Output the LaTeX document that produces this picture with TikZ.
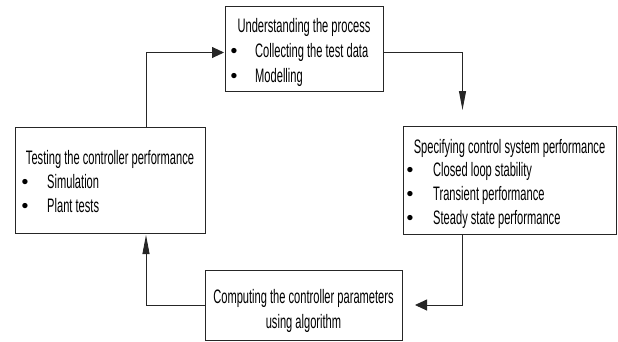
\documentclass[tikz,border=0pt]{standalone}
\usepackage{fontspec}
\setmainfont{Liberation Sans}[FakeStretch=0.57]
\newfontfamily\bulfont{Liberation Sans}
\usetikzlibrary{arrows.meta}
\begin{document}
\begin{tikzpicture}[x=1pt,y=-1pt,
  box/.style={draw=black!85,line width=0.9pt,inner sep=0pt,fill=white},
  txt/.style={inner sep=0pt,font=\fontsize{19.5}{23}\selectfont,text=black},
  bul/.style={inner sep=0pt,font=\bulfont\fontsize{19.5}{23}\selectfont,text=black},
  conn/.style={draw=black!85,line width=0.9pt},
  harrow/.style={conn,-{Triangle[length=12pt,width=11pt]}},
  varrow/.style={conn,-{Triangle[length=19pt,width=7pt]}}]
\useasboundingbox (0,0) rectangle (618,341);
% boxes
\node[box,minimum width=158pt,minimum height=85pt] (top) at (304,48.5) {};
\node[box,minimum width=213pt,minimum height=108pt] (right) at (509.5,180) {};
\node[box,minimum width=197pt,minimum height=70pt] (bottom) at (303.5,305) {};
\node[box,minimum width=190pt,minimum height=106pt] (left) at (110,180) {};
% top box text
\node[txt,anchor=base] (th) at (304,32.5) {Understanding the process};
\node[bul,anchor=base] (tb1) at (234,57.5) {•};
\node[txt,anchor=base west] (tt1) at (255,57.5) {Collecting the test data};
\node[bul,anchor=base] (tb2) at (234,82.5) {•};
\node[txt,anchor=base west] (tt2) at (255,82.5) {Modelling};
% right box text
\node[txt,anchor=base] (rh) at (509.5,153.5) {Specifying control system performance};
\node[bul,anchor=base] (rb1) at (410,176.5) {•};
\node[txt,anchor=base west] (rt1) at (433,176.5) {Closed loop stability};
\node[bul,anchor=base] (rb2) at (410,200) {•};
\node[txt,anchor=base west] (rt2) at (433,200) {Transient performance};
\node[bul,anchor=base] (rb3) at (410,224) {•};
\node[txt,anchor=base west] (rt3) at (433,224) {Steady state performance};
% bottom box text
\node[txt,anchor=base] (bh1) at (303.5,303.5) {Computing the controller parameters};
\node[txt,anchor=base] (bh2) at (303.5,328) {using algorithm};
% left box text
\node[txt,anchor=base] (lh) at (110,164) {Testing the controller performance};
\node[bul,anchor=base] (lb1) at (25,188) {•};
\node[txt,anchor=base west] (lt1) at (47,188) {Simulation};
\node[bul,anchor=base] (lb2) at (25,212) {•};
\node[txt,anchor=base west] (lt2) at (47,212) {Plant tests};
% connector helpers
\coordinate (ty) at (0,52.5);
\coordinate (rx) at (462.5,0);
\coordinate (lx) at (146,0);
\coordinate (ra) at (462.5,110);
\coordinate (ba) at (415,305);
\coordinate (la) at (146,235);
\coordinate (ta) at (224,52.5);
% connectors
\draw[varrow] (ty -| top.east) -| (ra);
\draw[harrow] (right.south -| rx) |- (ba);
\draw[varrow] (bottom.west) -| (la);
\draw[harrow] (left.north -| lx) |- (ta);
\end{tikzpicture}
\end{document}
